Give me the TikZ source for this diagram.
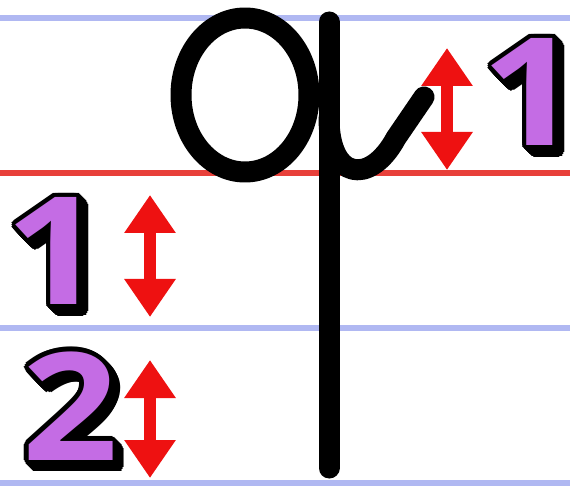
\documentclass[tikz,border=0pt]{standalone}
\usepackage{fontspec}
\setmainfont{Open Sans}
\usetikzlibrary{arrows.meta}
\definecolor{guideblue}{HTML}{B0B8F2}
\definecolor{guidered}{HTML}{E8403A}
\definecolor{arrowred}{HTML}{EE1111}
\definecolor{numpurple}{HTML}{C46CE4}
\tikzset{
  guide/.style={line width=6pt},
  letter/.style={line width=21pt, line cap=round, line join=round, black},
  dblarrow/.style={draw=arrowred, line width=12pt,
    {Triangle[width=49pt,length=38pt,fill=arrowred]}-{Triangle[width=49pt,length=38pt,fill=arrowred]}},
  numtxt/.style={inner sep=0pt, anchor=center, font=\fontsize{150}{150}\selectfont\bfseries}
}
\newcommand\fatnum[5]{% name, x, y, xscale, text
  \foreach \s in {0,1,...,7}{
    \foreach \a in {0,30,...,330}{
      \node[numtxt,text=black] (#1-\s-\a) at ({#2+\s+4.5*cos(\a)},{#3+\s+4.5*sin(\a)}) {\scalebox{#4}[1]{#5}};
    }
  }
  \node[numtxt,text=numpurple] (#1) at (#2,#3) {\scalebox{#4}[1]{#5}};
}
\begin{document}
\begin{tikzpicture}[x=1pt,y=-1pt]
\useasboundingbox (0,0) rectangle (570,486);
\fill[white] (0,0) rectangle (570,486);
% guide lines
\coordinate (b1l) at (0,18);   \coordinate (b1r) at (570,18);
\coordinate (rl)  at (0,173);  \coordinate (rr)  at (570,173);
\coordinate (b2l) at (0,328);  \coordinate (b2r) at (570,328);
\coordinate (b3l) at (0,483);  \coordinate (b3r) at (570,483);
\draw[guide,guideblue] (b1l) -- (b1r);
\draw[guide,guidered]  (rl) -- (rr);
\draw[guide,guideblue] (b2l) -- (b2r);
\draw[guide,guideblue] (b3l) -- (b3r);
% letter
\draw[letter] (245,95) ellipse [x radius=64, y radius=77];
\draw[letter] (329,22) -- (329,468);
\draw[letter] (329,118) .. controls (329,180) and (370,186) .. (396,138) -- (424,97);
% arrows
\coordinate (ra1) at (447,48);  \coordinate (ra2) at (447,170);
\coordinate (la1) at (150,195); \coordinate (la2) at (150,317);
\coordinate (lb1) at (150,360); \coordinate (lb2) at (150,478);
\draw[dblarrow] (ra1) -- (ra2);
\draw[dblarrow] (la1) -- (la2);
\draw[dblarrow] (lb1) -- (lb2);
% numbers
\fatnum{nr}{531}{92}{1.15}{1}
\fatnum{nl}{55}{251}{1.15}{1}
\fatnum{n2}{70}{406}{1.12}{2}
\end{tikzpicture}
\end{document}
